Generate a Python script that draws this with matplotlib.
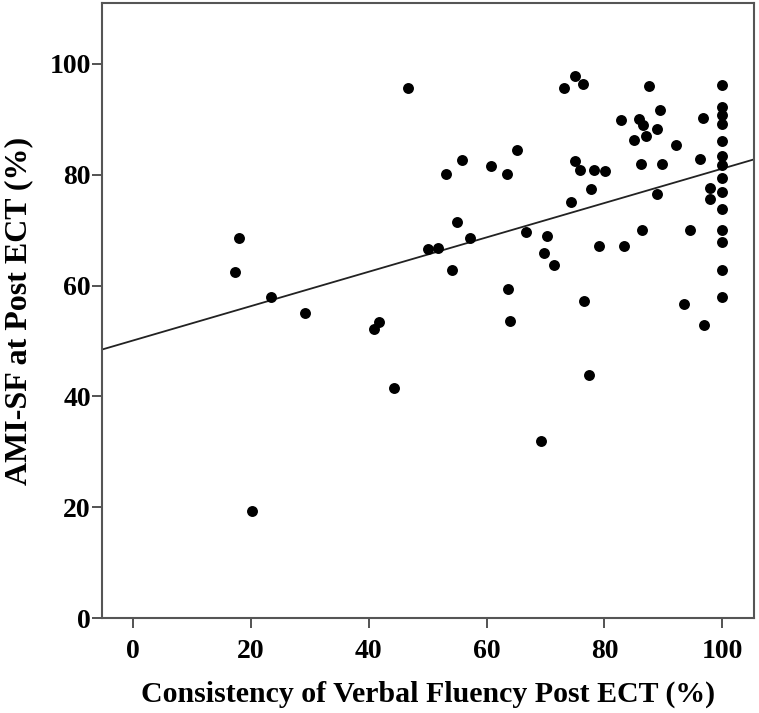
import matplotlib
matplotlib.use('Agg')
import matplotlib.pyplot as plt
import numpy as np

# Consistency of verbal fluency (x) vs AMI-SF (y)
x_vals = [46.7, 18.0, 17.3, 23.4, 29.1, 41.8, 40.8, 50.0, 44.2, 20.1,
          75.0, 76.4, 73.1, 87.5,
          100, 100, 100, 100, 100, 100, 100, 100, 100, 100, 100, 100, 100, 100,
          89.5, 82.9, 85.8, 86.5, 89.0, 96.7, 85.1, 87.0, 92.1, 96.2, 86.2, 89.8,
          65.1, 55.9, 53.1, 60.8, 63.5, 75.0, 75.9, 78.2, 80.1, 77.8, 74.4,
          88.9, 97.9, 98.0, 55.0, 57.2, 51.7, 66.7, 70.3, 69.7, 71.5,
          86.4, 94.5, 79.1, 83.4, 54.2, 63.7, 64.0, 76.5, 93.6, 96.9,
          77.4, 69.2]
y_vals = [95.7, 68.6, 62.4, 58.0, 55.1, 53.5, 52.1, 66.6, 41.6, 19.3,
          97.8, 96.4, 95.6, 96.0,
          96.2, 92.2, 90.7, 89.1, 86.1, 83.3, 81.8, 79.4, 76.8, 73.9, 70.0, 67.8, 62.9, 58.0,
          91.6, 89.9, 90.1, 89.0, 88.2, 90.3, 86.3, 87.0, 85.3, 82.9, 81.9, 81.9,
          84.4, 82.6, 80.2, 81.6, 80.2, 82.5, 80.9, 80.9, 80.6, 77.4, 75.0,
          76.5, 77.6, 75.7, 71.4, 68.6, 66.7, 69.6, 68.9, 65.9, 63.7,
          70.0, 70.0, 67.1, 67.1, 62.9, 59.3, 53.6, 57.3, 56.6, 52.8,
          43.9, 31.9]

# fitted line
fit_intercept = 50.1
fit_slope = 0.31

x_ticks = [0, 20, 40, 60, 80, 100]
y_ticks = [0, 20, 40, 60, 80, 100]

plt.rcParams['font.family'] = ['Liberation Serif', 'DejaVu Serif']
plt.rcParams['font.weight'] = 'bold'

fig = plt.figure(figsize=(7.59, 7.13), dpi=100)
ax = fig.add_axes([0.1344, 0.1332, 0.859, 0.8626])

ax.scatter(x_vals, y_vals, s=62, color='black', zorder=3, linewidths=0)
xl = np.array([-5.3, 105.4])
ax.plot(xl, fit_intercept + fit_slope * xl, color='#222222', lw=1.3, zorder=2)

ax.set_xlim(-5.3, 105.4)
ax.set_ylim(0, 111)
ax.set_xticks(x_ticks)
ax.set_yticks(y_ticks)
ax.tick_params(direction='out', length=7, width=1.3, color='#444444',
               labelsize=20)
ax.tick_params(axis='x', pad=8)
ax.tick_params(axis='y', pad=1)
for s in ax.spines.values():
    s.set_color('#555555')
    s.set_linewidth(1.5)

ax.set_xlabel('Consistency of Verbal Fluency Post ECT (%)', fontsize=21.5,
              fontweight='bold', labelpad=12)
ax.set_ylabel('AMI-SF at Post ECT (%)', fontsize=23, fontweight='bold',
              labelpad=12)

fig.savefig('out.png', dpi=100)
